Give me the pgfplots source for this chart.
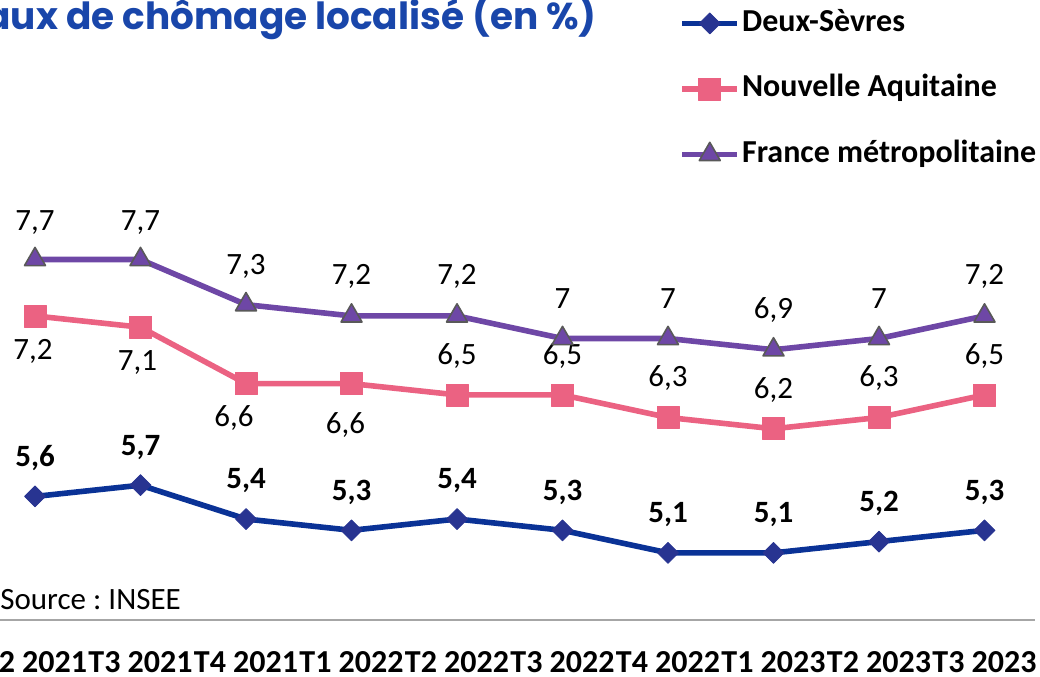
\documentclass[border=0pt]{standalone}
\usepackage{pgfplots}
\pgfplotsset{compat=1.18}
\usepackage{pgfplotstable}
\usepackage{fontspec}
\setmainfont{Carlito}
\newfontfamily\titlefont{Poppins}
\frenchspacing

\definecolor{dsblue}{HTML}{0A3296}
\definecolor{dsmark}{HTML}{283491}
\definecolor{napink}{HTML}{EB6282}
\definecolor{frpurple}{HTML}{6E47A6}
\definecolor{triedge}{HTML}{595959}
\definecolor{titleblue}{HTML}{1946AA}

% x = trimestre (0 = T2 2021), dy/dx = position de l'etiquette (pt)
\pgfplotstableread{
x y lab dy dx
0 5.6 5,6 19 0
1 5.7 5,7 19 0
2 5.4 5,4 19 0
3 5.3 5,3 19 0
4 5.4 5,4 19 0
5 5.3 5,3 19 0
6 5.1 5,1 19 0
7 5.1 5,1 19 0
8 5.2 5,2 19 0
9 5.3 5,3 19 0
}\deuxsevres

\pgfplotstableread{
x y lab dy dx
0 7.2 7,2 -17.5 -1
1 7.1 7,1 -17.5 -1.5
2 6.6 6,6 -17 -6
3 6.6 6,6 -20.5 -3
4 6.5 6,5 19.5 0
5 6.5 6,5 19.5 0
6 6.3 6,3 19.5 0
7 6.2 6,2 19.5 0
8 6.3 6,3 19.5 0
9 6.5 6,5 19.5 0
}\aquitaine

\pgfplotstableread{
x y lab dy dx
0 7.7 7,7 18.5 0
1 7.7 7,7 18.5 0
2 7.3 7,3 19 0
3 7.2 7,2 19.5 0
4 7.2 7,2 19.5 0
5 7.0 7 20 0
6 7.0 7 20 0
7 6.9 6,9 20 0
8 7.0 7 20 0
9 7.2 7,2 19.5 0
}\france

\begin{document}
\begin{tikzpicture}
\begin{axis}[
  scale only axis,
  width=520pt, height=338.5pt,
  xmin=-0.3318, xmax=9.526,
  ymin=4, ymax=10,
  axis line style={draw=none},
  tick style={draw=none},
  major tick length=0pt,
  ytick=\empty,
  xtick={0,...,9},
  xticklabels={T2 2021,T3 2021,T4 2021,T1 2022,T2 2022,T3 2022,T4 2022,T1 2023,T2 2023,T3 2023},
  xticklabel style={font=\bfseries\fontsize{16}{16}\selectfont, anchor=base, yshift=2.25pt, inner sep=0pt},
  clip=false,
  point meta=explicit symbolic,
  nodes near coords,
  visualization depends on={\thisrow{dy} \as \labdy},
  visualization depends on={\thisrow{dx} \as \labdx},
  every node near coord/.append style={anchor=center, xshift=\labdx pt, yshift=\labdy pt,
    font=\fontsize{15.5}{15.5}\selectfont, text=black, inner sep=0pt},
  legend style={at={(axis cs:6.105,9.955)}, anchor=north west, draw=none, fill=none,
    inner sep=0pt, row sep=14.75pt, column sep=0pt,
    font=\bfseries\fontsize{16}{16}\selectfont,
    nodes={inner sep=1pt, text height=12pt, text depth=4pt}},
  legend cell align=left,
  legend image code/.code={\draw[#1, mark repeat=2, mark phase=2]
    plot coordinates {(0pt,0pt) (13.75pt,0pt) (27.5pt,0pt)};},
]
\coordinate (bl) at (rel axis cs:0,0);
\coordinate (tr) at (rel axis cs:1,1);

\addplot[color=dsblue, line width=2.8pt, line join=round,
  mark=square*, mark size=3.7pt,
  mark options={rotate=45, fill=dsmark, draw=dsmark, line width=0.4pt},
  every node near coord/.append style={font=\bfseries\fontsize{15.5}{15.5}\selectfont}]
  table[x=x, y=y, meta=lab] {\deuxsevres};
\addlegendentry{Deux-Sèvres}

\addplot[color=napink, line width=2.8pt, line join=round,
  mark=square*, mark size=5.5pt,
  mark options={fill=napink, draw=napink, line width=0.4pt}]
  table[x=x, y=y, meta=lab] {\aquitaine};
\addlegendentry{Nouvelle Aquitaine}

\addplot[color=frpurple, line width=2.8pt, line join=round,
  mark=triangle*, mark size=6.06pt,
  mark options={fill=frpurple, draw=triedge, line width=0.8pt}]
  table[x=x, y=y, meta=lab] {\france};
\addlegendentry{France métropolitaine}

\draw[color=black!35, line width=0.75pt] (axis cs:-0.3318,4.504) -- (axis cs:9.479,4.504);
\node[anchor=base west, inner sep=0pt, font=\fontsize{15.5}{15.5}\selectfont]
  at (axis cs:-0.3318,4.602) {Source : INSEE};
\node[anchor=base east, inner sep=0pt, text=titleblue,
  font=\titlefont\bfseries\fontsize{18.7}{18.7}\selectfont]
  at (axis cs:5.327,9.735) {Taux de chômage localisé (en~\%)};
\end{axis}
\pgfresetboundingbox
\useasboundingbox (bl) rectangle (tr);
\end{tikzpicture}
\end{document}
